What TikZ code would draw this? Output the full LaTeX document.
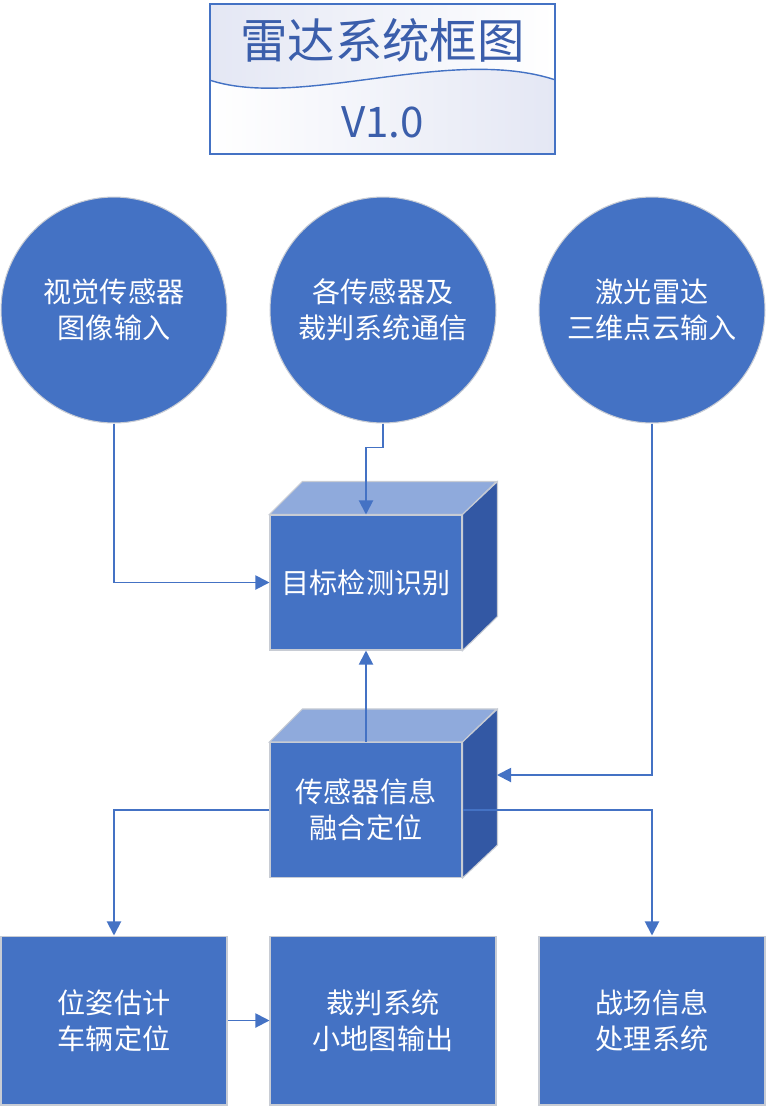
\documentclass[tikz,border=0pt]{standalone}
\usepackage{fontspec}
\setmainfont{Noto Sans CJK SC}
\usetikzlibrary{arrows.meta}

\definecolor{boxblue}{HTML}{4472C4}
\definecolor{topblue}{HTML}{8FAADC}
\definecolor{sideblue}{HTML}{3358A4}
\definecolor{edgegray}{HTML}{C8CCD4}
\definecolor{titleblue}{HTML}{3B5EAB}
\definecolor{haze}{HTML}{E4E7F4}

\tikzset{
    flow/.style={draw=boxblue, line width=1.1pt, -{Triangle[length=8pt,width=8pt]}},
    txt/.style={text=white, align=center, font=\fontsize{16}{20.5}\selectfont},
    source/.style={circle, fill=boxblue, draw=edgegray, line width=0.6pt, minimum size=4.52cm, inner sep=0pt, txt},
    front/.style={rectangle, fill=boxblue, draw=edgegray, line width=0.6pt, minimum width=3.84cm, minimum height=2.7cm, inner sep=0pt, txt},
    output/.style={rectangle, fill=boxblue, draw=edgegray, line width=0.6pt, minimum width=4.52cm, minimum height=3.38cm, inner sep=0pt, txt},
    cubetop/.style={fill=topblue, draw=edgegray, line width=0.6pt},
    cubeside/.style={fill=sideblue, draw=edgegray, line width=0.6pt}
}

\begin{document}
\begin{tikzpicture}[x=0.02cm, y=-0.02cm]
    \useasboundingbox (0,0) rectangle (766,1107);

    % title
    \shade[left color=white, right color=haze] (210,70) rectangle (555,154);
    \shade[left color=haze, right color=white] (210,4) -- (210,80) .. controls (300,110) and (450,45) .. (555,80) -- (555,4) -- cycle;
    \node[draw=boxblue, line width=0.8pt, minimum width=6.9cm, minimum height=3cm, inner sep=0pt] (title) at (382.5,79) {};
    \draw[boxblue, line width=0.8pt] (title.west |- 0,80) .. controls (300,110) and (450,45) .. (title.east |- 0,80);
    \node[text=titleblue, font=\fontsize{27}{30}\selectfont] (name) at (382.5,40) {雷达系统框图};
    \node[text=titleblue, font=\fontsize{24}{28}\selectfont] (ver) at (382.5,122) {V1.0};

    % inputs
    \node[source] (vis) at (114,310) {视觉传感器\\图像输入};
    \node[source] (comm) at (383,310) {各传感器及\\裁判系统通信};
    \node[source] (lidar) at (652,310) {激光雷达\\三维点云输入};

    % detection cube
    \node[front] (det) at (366,582.5) {目标检测识别};
    \draw[cubetop] (det.north west) -- ++(33,-33) -- ++(194,0) -- (det.north east) -- cycle;
    \draw[cubeside] (det.north east) -- ++(35,-33) -- ++(0,135) -- (det.south east) -- cycle;

    % fusion cube
    \node[front] (fuse) at (366,810) {传感器信息\\融合定位};
    \draw[cubetop] (fuse.north west) -- ++(33,-33) -- ++(194,0) -- (fuse.north east) -- cycle;
    \draw[cubeside] (fuse.north east) -- ++(35,-33) -- ++(0,136) -- (fuse.south east) -- cycle;
    \coordinate (fuseR) at (497,775);

    % outputs
    \node[output] (pose) at (114,1020.5) {位姿估计\\车辆定位};
    \node[output] (map) at (383,1020.5) {裁判系统\\小地图输出};
    \node[output] (field) at (652,1020.5) {战场信息\\处理系统};

    \draw[flow] (vis.south) |- (det.west);
    \draw[flow] (comm.south) -- ++(0,24) -| (det.north);
    \draw[flow] (fuse.north) -- (det.south);
    \draw[flow] (lidar.south) |- (fuseR);
    \draw[flow] (fuse.west) -| (pose.north);
    \draw[flow] (fuse.east) -| (field.north);
    \draw[flow] (pose.east) -- (map.west);
\end{tikzpicture}
\end{document}
